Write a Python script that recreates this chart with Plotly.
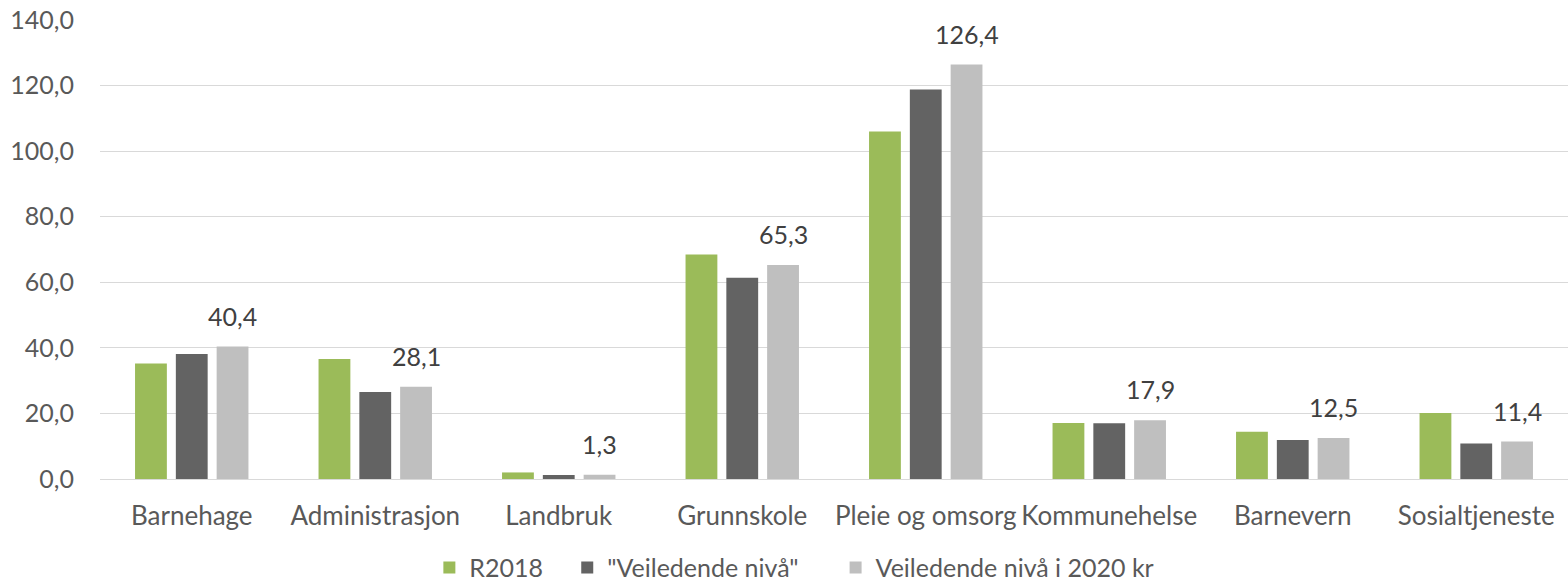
import plotly.graph_objects as go

kategorier = ['Barnehage', 'Administrasjon', 'Landbruk', 'Grunnskole',
              'Pleie og omsorg', 'Kommunehelse', 'Barnevern', 'Sosialtjeneste']
r2018 = [35.2, 36.6, 2.0, 68.5, 106.0, 17.1, 14.4, 20.1]
veiledende = [38.1, 26.5, 1.2, 61.4, 118.8, 17.0, 11.9, 10.8]
veiledende_2020 = [40.4, 28.1, 1.3, 65.3, 126.4, 17.9, 12.5, 11.4]

tekstfarge = '#595959'
fonten = 'Lato'
nbsp = '\u00a0'

fig = go.Figure()
fig.add_trace(go.Bar(x=kategorier, y=r2018, name='R2018' + nbsp * 3, marker_color='#9BBB59'))
fig.add_trace(go.Bar(x=kategorier, y=veiledende, name='"Veiledende nivå"' + nbsp * 5,
                     marker_color='#636363'))
fig.add_trace(go.Bar(x=kategorier, y=veiledende_2020, name='Veiledende nivå i 2020 kr',
                     marker_color='#BFBFBF'))
fig.update_traces(marker_line_width=0, hoverinfo='x+y')

# dataetiketter over tredje serie
for kat, verdi in zip(kategorier, veiledende_2020):
    fig.add_annotation(x=kat, y=verdi, text=f"{verdi:.1f}".replace('.', ','),
                       showarrow=False, yanchor='bottom', xshift=41, yshift=14,
                       font=dict(size=25, color='#404040', family=fonten))

fig.update_layout(
    width=1568, height=584,
    margin=dict(l=100, r=0, t=20, b=105, autoexpand=False),
    barmode='group', bargap=0.333, bargroupgap=0.22,
    paper_bgcolor='white', plot_bgcolor='white',
    font=dict(family=fonten, size=24, color=tekstfarge),
    separators=',.',
    legend=dict(orientation='h', x=0.473, xanchor='center', y=-0.143, yanchor='top',
                font=dict(size=25, color=tekstfarge), itemwidth=30,
                traceorder='normal'),
)
fig.update_yaxes(range=[0, 140], dtick=20, tickformat='.1f', showgrid=True,
                 gridcolor='#D9D9D9', gridwidth=1.3, zeroline=False, automargin=False,
                 ticks='', ticklabelstandoff=25, tickfont=dict(size=25))
fig.update_xaxes(showline=True, linecolor='#D9D9D9', linewidth=1.3, ticks='',
                 automargin=False, ticklabelstandoff=14, tickfont=dict(size=26))

fig.write_html("out.html", config={'displayModeBar': False},
               post_script="document.body.style.margin='0';")
